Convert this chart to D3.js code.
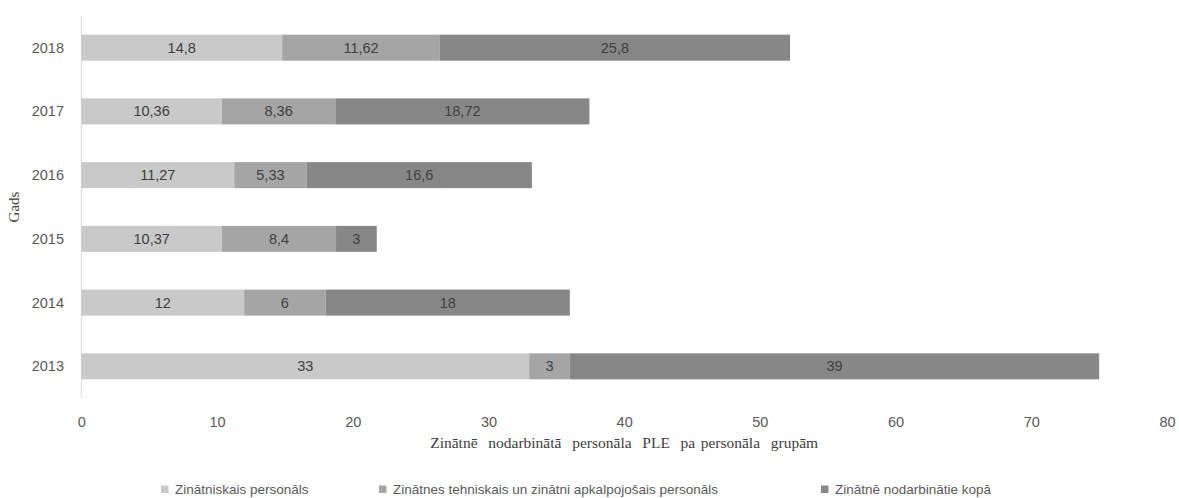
<!DOCTYPE html>
<html><head><meta charset="utf-8">
<script src="https://cdn.jsdelivr.net/npm/d3@7"></script>
<style>body{margin:0;background:#fff}svg{display:block}</style>
</head><body><svg id="c" width="1179" height="498"></svg>
<script>
const years = ["2018","2017","2016","2015","2014","2013"];
const seriesNames = ["Zinātniskais personāls","Zinātnes tehniskais un zinātni apkalpojošais personāls","Zinātnē nodarbinātie kopā"];
const scientific = [14.8, 10.36, 11.27, 10.37, 12, 33];
const technical = [11.62, 8.36, 5.33, 8.4, 6, 3];
const total = [25.8, 18.72, 16.6, 3, 18, 39];
const xTicks = [0,10,20,30,40,50,60,70,80];
const colors = ["#c9c9c9","#a5a5a5","#878787"];

const sans = "Liberation Sans, Arial, sans-serif";
const serif = "Liberation Serif, Times New Roman, serif";
const svg = d3.select("#c");
const x = d3.scaleLinear().domain([0,80]).range([81.3,1167]);
const y = d3.scaleBand().domain(years).range([15.8,398.2]).paddingInner(0.592).paddingOuter(0.296);

const stackData = years.map((yr,i)=>({year:yr, s0:scientific[i], s1:technical[i], s2:total[i]}));
const keys = ["s0","s1","s2"];
const stack = d3.stack().keys(keys)(stackData);

svg.append("line").attr("x1",x(0)).attr("x2",x(0)).attr("y1",15.8).attr("y2",398.2)
  .attr("stroke","#d9d9d9").attr("stroke-width",1);

stack.forEach((layer,li)=>{
  const g = svg.append("g");
  g.selectAll("rect").data(layer).enter().append("rect")
    .attr("x",d=>x(d[0])).attr("width",d=>x(d[1])-x(d[0]))
    .attr("y",d=>y(d.data.year)).attr("height",y.bandwidth())
    .attr("fill",colors[li]);
  g.selectAll("text").data(layer).enter().append("text")
    .attr("x",d=>(x(d[0])+x(d[1]))/2).attr("y",d=>y(d.data.year)+y.bandwidth()/2)
    .attr("dy","0.35em").attr("text-anchor","middle")
    .attr("font-family",sans).attr("font-size",14.5)
    .attr("fill","#404040")
    .text(d=>String(d.data[keys[li]]).replace(".",","));
});

svg.append("g").selectAll("text").data(years).enter().append("text")
  .attr("x",64).attr("y",d=>y(d)+y.bandwidth()/2).attr("dy","0.35em")
  .attr("text-anchor","end").attr("font-family",sans)
  .attr("font-size",14.5).attr("fill","#595959").text(d=>d);

const xAxis = d3.axisBottom(x).tickValues(xTicks).tickSize(0).tickPadding(0);
const xg = svg.append("g").attr("transform","translate(0,422)").call(xAxis);
xg.select(".domain").remove();
xg.selectAll("text").attr("font-family",sans)
  .attr("font-size",14.5).attr("fill","#595959").attr("dy","0.35em");

svg.append("text").attr("x",(x(0)+x(80))/2).attr("y",448).attr("text-anchor","middle")
  .attr("font-family",serif).attr("font-size",15.5)
  .attr("fill","#404040").attr("xml:space","preserve")
  .style("white-space","pre").style("word-spacing","1.5px")
  .text("Zinātnē  nodarbinātā  personāla  PLE  pa personāla  grupām");
svg.append("text").attr("transform","translate(19,207) rotate(-90)").attr("text-anchor","middle")
  .attr("font-family",serif).attr("font-size",15)
  .attr("fill","#404040").text("Gads");

const legX = [161,379,821];
const lg = svg.append("g");
seriesNames.forEach((n,i)=>{
  lg.append("rect").attr("x",legX[i]).attr("y",485.5).attr("width",7.5).attr("height",7.5).attr("fill",colors[i]);
  lg.append("text").attr("x",legX[i]+14).attr("y",489.5).attr("dy","0.35em")
    .attr("font-family",sans).attr("font-size",13.5)
    .attr("fill","#595959").text(n);
});
</script></body></html>
